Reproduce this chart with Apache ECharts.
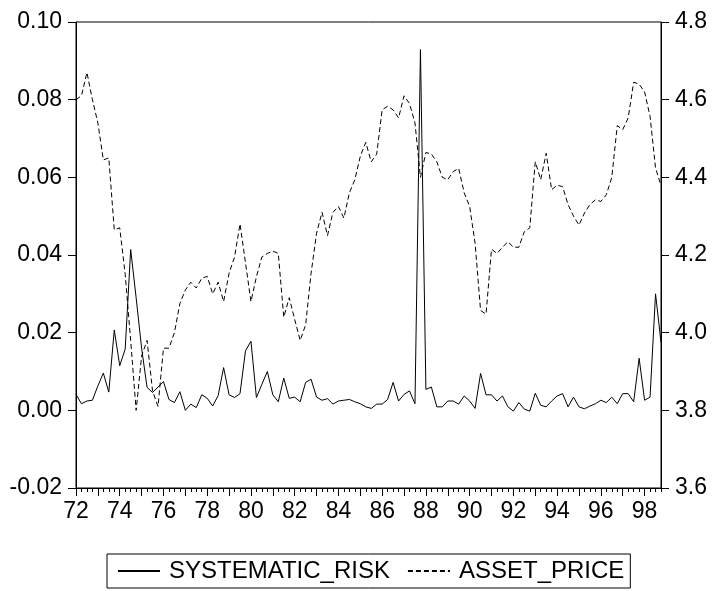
<!DOCTYPE html>
<html>
<head>
<meta charset="utf-8">
<script src="https://cdn.jsdelivr.net/npm/echarts@6/dist/echarts.min.js"></script>
<style>
html,body{margin:0;padding:0;background:#fff;}
#chart{width:713px;height:591px;}
</style>
</head>
<body>
<div id="chart"></div>
<script>
// Quarterly observations 1972Q1 .. 1998Q4
var startYear = 1972, endYear = 1998;
var quarters = [];
for (var y = startYear; y <= endYear; y++) { for (var q = 1; q <= 4; q++) quarters.push(y + 'Q' + q); }

var systematicRisk = [
  0.0041, 0.0017, 0.0024, 0.0026, 0.0063, 0.0096, 0.0047, 0.0207,
  0.0115, 0.0158, 0.0414, 0.0290, 0.0160, 0.0059, 0.0046, 0.0060,
  0.0074, 0.0028, 0.0020, 0.0048, 0.0000, 0.0016, 0.0007, 0.0040,
  0.0031, 0.0011, 0.0038, 0.0110, 0.0040, 0.0033, 0.0043, 0.0153,
  0.0178, 0.0033, 0.0067, 0.0100, 0.0040, 0.0022, 0.0083, 0.0031,
  0.0034, 0.0022, 0.0072, 0.0080, 0.0034, 0.0026, 0.0030, 0.0016,
  0.0024, 0.0026, 0.0028, 0.0022, 0.0017, 0.0009, 0.0005, 0.0016,
  0.0016, 0.0028, 0.0072, 0.0024, 0.0041, 0.0050, 0.0017, 0.0929,
  0.0054, 0.0060, 0.0009, 0.0009, 0.0024, 0.0024, 0.0016, 0.0037,
  0.0024, 0.0005, 0.0095, 0.0040, 0.0040, 0.0024, 0.0037, 0.0009,
  -0.0002, 0.0020, 0.0003, -0.0002, 0.0044, 0.0013, 0.0009, 0.0024,
  0.0037, 0.0043, 0.0009, 0.0034, 0.0009, 0.0004, 0.0011, 0.0017,
  0.0026, 0.0020, 0.0034, 0.0017, 0.0043, 0.0043, 0.0022, 0.0134,
  0.0026, 0.0034, 0.0300, 0.0175
];

var assetPrice = [
  4.600, 4.610, 4.670, 4.600, 4.540, 4.445, 4.450, 4.265,
  4.270, 4.150, 3.980, 3.800, 3.940, 3.980, 3.850, 3.810,
  3.960, 3.960, 4.000, 4.075, 4.110, 4.130, 4.115, 4.140,
  4.145, 4.100, 4.130, 4.080, 4.153, 4.195, 4.280, 4.180,
  4.080, 4.144, 4.195, 4.204, 4.210, 4.204, 4.040, 4.090,
  4.034, 3.980, 4.020, 4.153, 4.256, 4.310, 4.250, 4.310,
  4.325, 4.295, 4.360, 4.394, 4.454, 4.490, 4.440, 4.460,
  4.574, 4.583, 4.574, 4.553, 4.610, 4.590, 4.540, 4.400,
  4.464, 4.460, 4.440, 4.400, 4.394, 4.415, 4.423, 4.360,
  4.325, 4.230, 4.057, 4.048, 4.215, 4.204, 4.220, 4.234,
  4.220, 4.220, 4.260, 4.270, 4.440, 4.394, 4.462, 4.368,
  4.380, 4.376, 4.330, 4.300, 4.277, 4.308, 4.330, 4.342,
  4.338, 4.355, 4.400, 4.533, 4.523, 4.553, 4.645, 4.640,
  4.620, 4.557, 4.424, 4.379
];

var leftTicks = { min: -0.02, max: 0.10, interval: 0.02 };
var rightTicks = { min: 3.6, max: 4.8, interval: 0.2 };
var seriesNames = ['SYSTEMATIC_RISK', 'ASSET_PRICE'];

var FONT = 'Liberation Sans, Arial, sans-serif';
var FS = 23;

var chart = echarts.init(document.getElementById('chart'), null, { renderer: 'canvas' });
chart.setOption({
  animation: false,
  backgroundColor: '#fff',
  grid: {
    left: 76, right: 52, top: 22, bottom: 103,
    show: true, borderColor: '#000', borderWidth: 1, backgroundColor: 'transparent'
  },
  legend: {
    data: seriesNames,
    left: 107, top: 554,
    itemWidth: 42, itemHeight: 14, itemGap: 17,
    padding: [3, 6, 3, 10],
    borderColor: '#000', borderWidth: 1, borderRadius: 0,
    itemStyle: { opacity: 0, borderWidth: 0 },
    textStyle: { fontFamily: FONT, fontSize: 24, color: '#000', lineHeight: 28, padding: [0, 0, 0, 4] }
  },
  xAxis: [
    {
      type: 'category', data: quarters, boundaryGap: false, position: 'bottom',
      axisLine: { onZero: false, lineStyle: { color: '#000', width: 1 } },
      axisTick: { show: true, interval: 0, length: 4, inside: false, lineStyle: { color: '#000' } },
      axisLabel: {
        interval: 7, margin: 12, fontFamily: FONT, fontSize: FS, color: '#000',
        formatter: function (v) { return v.slice(2, 4); }
      },
      splitLine: { show: false }
    },
    {
      type: 'category', data: quarters, boundaryGap: false, position: 'bottom', gridIndex: 0,
      axisLine: { show: false, onZero: false },
      axisTick: { show: true, interval: 3, length: 8, inside: false, lineStyle: { color: '#000' } },
      axisLabel: { show: false },
      splitLine: { show: false }
    }
  ],
  yAxis: [
    {
      type: 'value', position: 'left',
      min: leftTicks.min, max: leftTicks.max, interval: leftTicks.interval,
      axisLine: { show: true, onZero: false, lineStyle: { color: '#000' } },
      axisTick: { show: true, length: 8, inside: false, lineStyle: { color: '#000' } },
      axisLabel: { margin: 14, fontFamily: FONT, fontSize: FS, color: '#000',
        formatter: function (v) { return v.toFixed(2); } },
      splitLine: { show: false }
    },
    {
      type: 'value', position: 'right',
      min: rightTicks.min, max: rightTicks.max, interval: rightTicks.interval,
      axisLine: { show: true, onZero: false, lineStyle: { color: '#000' } },
      axisTick: { show: true, length: 8, inside: false, lineStyle: { color: '#000' } },
      axisLabel: { margin: 14, fontFamily: FONT, fontSize: FS, color: '#000',
        formatter: function (v) { return v.toFixed(1); } },
      splitLine: { show: false }
    }
  ],
  series: [
    {
      name: seriesNames[0], type: 'line', xAxisIndex: 0, yAxisIndex: 0,
      data: systematicRisk, symbol: 'none', showSymbol: false,
      lineStyle: { color: '#000', width: 1, type: 'solid' },
      itemStyle: { color: '#000' }
    },
    {
      name: seriesNames[1], type: 'line', xAxisIndex: 0, yAxisIndex: 1,
      data: assetPrice, symbol: 'none', showSymbol: false,
      lineStyle: { color: '#000', width: 1, type: [5, 3] },
      itemStyle: { color: '#000' }
    }
  ]
});
</script>
</body>
</html>
